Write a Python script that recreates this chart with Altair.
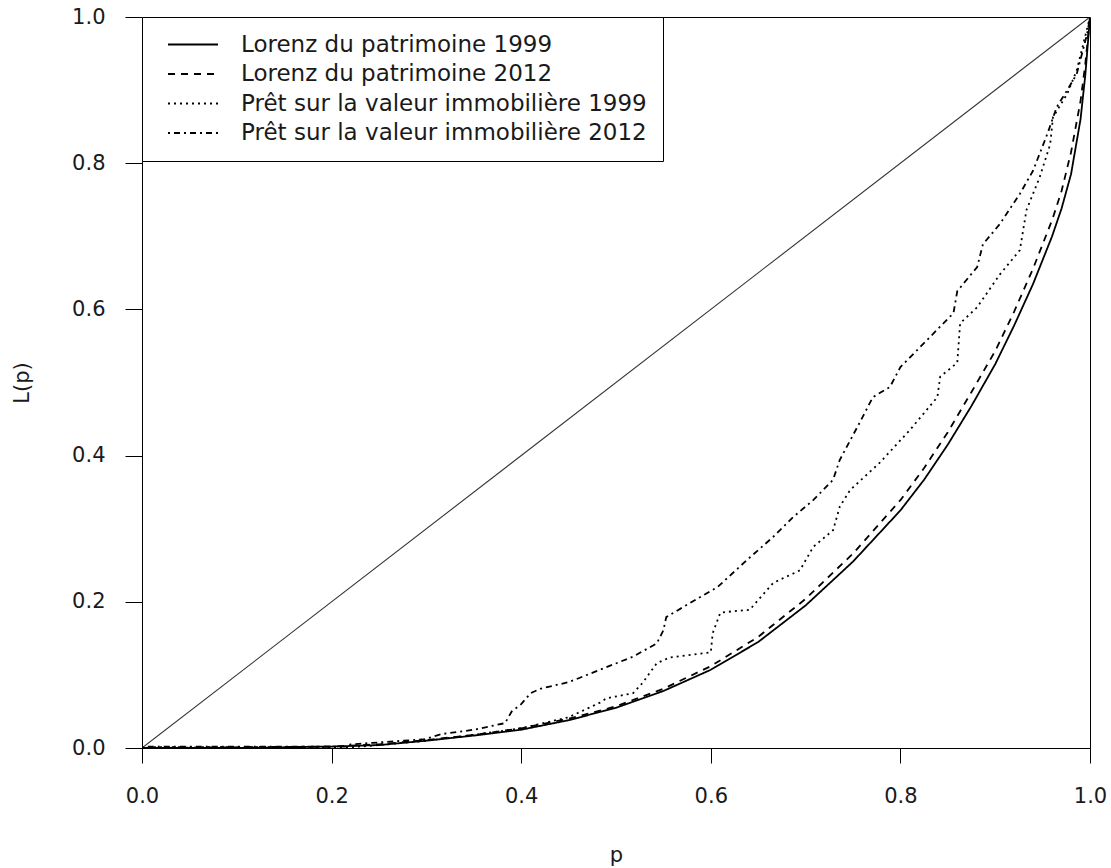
import altair as alt
import pandas as pd

# ---- data ----
names = [
    "Lorenz du patrimoine 1999",
    "Lorenz du patrimoine 2012",
    "Prêt sur la valeur immobilière 1999",
    "Prêt sur la valeur immobilière 2012",
]

diag_p = [0.0, 1.0]
diag_L = [0.0, 1.0]

lor99_p = [0, 0.1, 0.2, 0.25, 0.3, 0.35, 0.4, 0.45, 0.5, 0.55, 0.6, 0.65, 0.7, 0.75,
           0.8, 0.825, 0.85, 0.875, 0.9, 0.92, 0.94, 0.96, 0.97, 0.98, 0.99, 0.995, 1.0]
lor99_L = [0, 0.0, 0.002, 0.004, 0.01, 0.017, 0.025, 0.038, 0.055, 0.078, 0.107, 0.145,
           0.195, 0.255, 0.325, 0.367, 0.415, 0.468, 0.525, 0.578, 0.635, 0.70, 0.738,
           0.785, 0.86, 0.92, 1.0]

lor12_p = [0, 0.2, 0.25, 0.3, 0.35, 0.4, 0.45, 0.5, 0.55, 0.6, 0.65, 0.7, 0.75, 0.8,
           0.825, 0.85, 0.875, 0.9, 0.92, 0.94, 0.96, 0.97, 0.98, 0.99, 0.995, 1.0]
lor12_L = [0, 0.002, 0.005, 0.011, 0.018, 0.027, 0.04, 0.057, 0.081, 0.112, 0.152, 0.204,
           0.266, 0.339, 0.383, 0.432, 0.487, 0.543, 0.597, 0.656, 0.722, 0.762, 0.815,
           0.885, 0.935, 1.0]

pret99_p = [0, 0.005, 0.22, 0.25, 0.3, 0.35, 0.4, 0.45, 0.483, 0.49, 0.518, 0.528, 0.543,
            0.557, 0.6, 0.602, 0.61, 0.623, 0.641, 0.666, 0.694, 0.708, 0.729, 0.736,
            0.747, 0.778, 0.81, 0.839, 0.842, 0.86, 0.863, 0.881, 0.905, 0.926, 0.933,
            0.947, 0.958, 0.961, 0.976, 0.986, 1.0]
pret99_L = [0, 0.001, 0.001, 0.004, 0.01, 0.018, 0.027, 0.042, 0.062, 0.068, 0.075, 0.089,
            0.116, 0.124, 0.131, 0.157, 0.185, 0.187, 0.189, 0.226, 0.243, 0.275, 0.298,
            0.33, 0.353, 0.39, 0.435, 0.48, 0.508, 0.527, 0.581, 0.603, 0.648, 0.681,
            0.736, 0.781, 0.826, 0.863, 0.895, 0.927, 1.0]

pret12_p = [0, 0.005, 0.215, 0.22, 0.243, 0.298, 0.316, 0.35, 0.383, 0.39, 0.40, 0.41,
            0.42, 0.45, 0.483, 0.518, 0.543, 0.55, 0.553, 0.575, 0.607, 0.638, 0.666,
            0.687, 0.708, 0.729, 0.736, 0.757, 0.771, 0.789, 0.80, 0.828, 0.856, 0.86,
            0.881, 0.887, 0.905, 0.926, 0.94, 0.955, 0.965, 0.976, 0.986, 0.997, 1.0]
pret12_L = [0, 0.002, 0.002, 0.005, 0.007, 0.012, 0.019, 0.025, 0.034, 0.05, 0.06, 0.075,
            0.081, 0.09, 0.107, 0.125, 0.143, 0.161, 0.179, 0.196, 0.22, 0.257, 0.289,
            0.316, 0.339, 0.367, 0.394, 0.445, 0.48, 0.494, 0.521, 0.558, 0.595, 0.625,
            0.658, 0.689, 0.717, 0.758, 0.79, 0.84, 0.877, 0.9, 0.922, 0.977, 1.0]

dashes = [[1, 0], [7, 6], [2, 4], [2, 4, 6, 4]]
x_ticks = [0.0, 0.2, 0.4, 0.6, 0.8, 1.0]
y_ticks = [0.0, 0.2, 0.4, 0.6, 0.8, 1.0]

# ---- tables ----
rows = []
for name, ps, ls in zip(names, [lor99_p, lor12_p, pret99_p, pret12_p],
                        [lor99_L, lor12_L, pret99_L, pret12_L]):
    for i, (p, l) in enumerate(zip(ps, ls)):
        rows.append({"serie": name, "p": p, "L": l, "i": i})
df = pd.DataFrame(rows)
diag = pd.DataFrame({"p": diag_p, "L": diag_L, "i": [0, 1]})

FONT = "DejaVu Sans"
TXT = "#1a1a1a"

xscale = alt.Scale(domain=[0, 1], nice=False, zero=False, padding=0)
yscale = alt.Scale(domain=[0, 1], nice=False, zero=False, padding=0)

xaxis = alt.Axis(values=x_ticks, format=".1f", title="p", grid=False,
                 tickSize=15, labelPadding=22, labelFontSize=21, labelFont=FONT,
                 labelColor=TXT, domainColor="black", tickColor="black",
                 titleFont=FONT, titleFontSize=21, titleFontWeight="normal",
                 titleColor=TXT, titleY=107, titleBaseline="middle",
                 labelFlush=False, labelOverlap=False)
yaxis = alt.Axis(values=y_ticks, format=".1f", title="L(p)", grid=False,
                 tickSize=17, labelPadding=20, labelFontSize=21, labelFont=FONT,
                 labelColor=TXT, domainColor="black", tickColor="black",
                 titleFont=FONT, titleFontSize=21, titleFontWeight="normal",
                 titleColor=TXT, titleX=-120, titleY=365.5, titleAngle=270,
                 titleAlign="center", titleBaseline="middle",
                 labelFlush=False, labelOverlap=False)

diag_layer = alt.Chart(diag).mark_line(color="#333333", strokeWidth=1.1, clip=True).encode(
    x=alt.X("p:Q", scale=xscale, axis=xaxis),
    y=alt.Y("L:Q", scale=yscale, axis=yaxis),
    order="i:Q",
)

curves = alt.Chart(df).mark_line(color="black", strokeWidth=1.8, clip=True).encode(
    x=alt.X("p:Q", scale=xscale),
    y=alt.Y("L:Q", scale=yscale),
    order="i:Q",
    strokeDash=alt.StrokeDash(
        "serie:N",
        scale=alt.Scale(domain=names, range=dashes),
        sort=names,
        legend=alt.Legend(
            title=None, orient="none", legendX=0, legendY=0,
            symbolType="stroke", symbolSize=2500, symbolStrokeWidth=1.8,
            symbolStrokeColor="black", symbolOffset=9, clipHeight=23,
            labelFont=FONT, labelFontSize=23, labelColor=TXT, labelLimit=600,
            labelOffset=22, padding=16, rowPadding=5.5,
            strokeColor="black", fillColor="white", cornerRadius=0,
        ),
    ),
)

chart = alt.layer(diag_layer, curves).properties(
    width=948, height=731,
    autosize=alt.AutoSizeParams(type="none"),
    padding={"left": 142, "top": 17, "right": 21, "bottom": 120},
    background="white",
).configure_view(stroke="black", strokeWidth=1)

chart.save("out.html", embed_options={"renderer": "svg", "actions": False})
